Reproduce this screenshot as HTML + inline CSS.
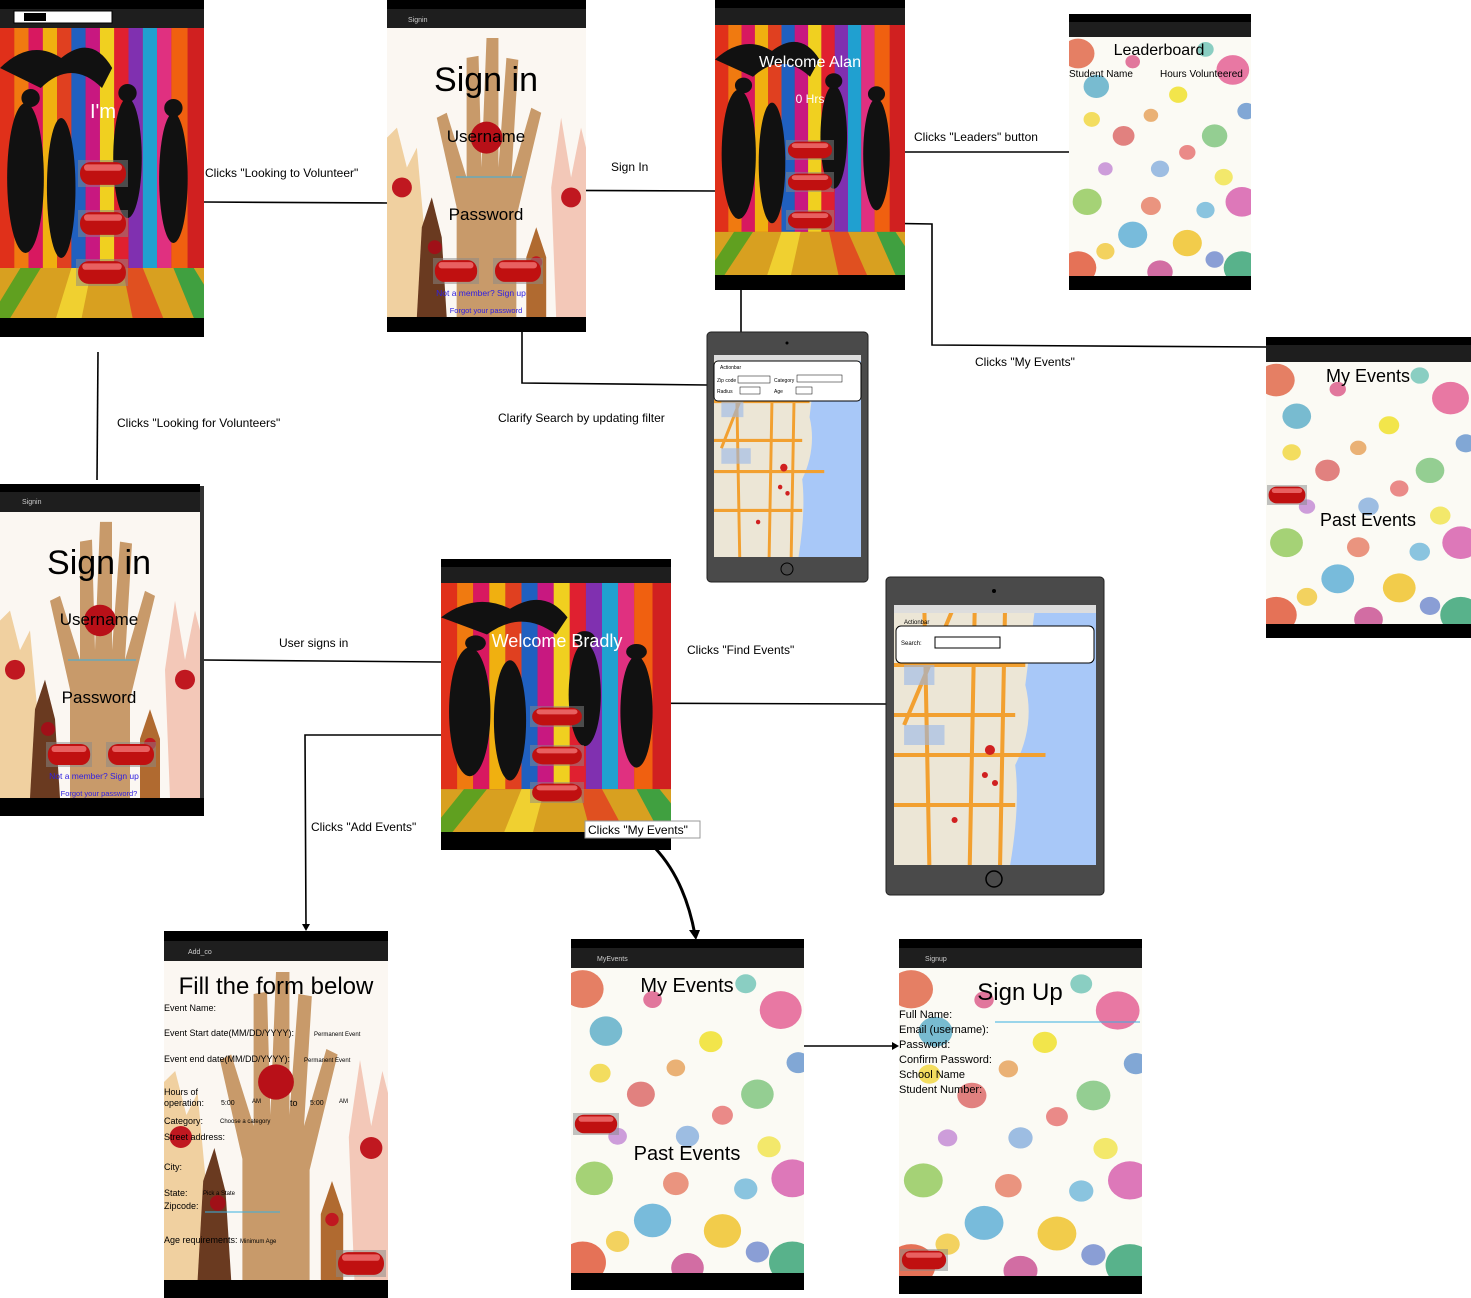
<!DOCTYPE html>
<html><head><meta charset="utf-8"><style>
html,body{margin:0;padding:0;background:#fff}
svg{display:block}
text{font-family:"Liberation Sans",sans-serif}
</style></head><body>
<svg width="1471" height="1298" viewBox="0 0 1471 1298" xmlns="http://www.w3.org/2000/svg">
<defs>
<symbol id="disco" viewBox="0 0 200 290" preserveAspectRatio="none">
 <rect x="0" y="0" width="200" height="290" fill="#c0202a"/>
 <rect x="0" y="0" width="14" height="240" fill="#e0301a"/>
 <rect x="14" y="0" width="14" height="240" fill="#f07a10"/>
 <rect x="28" y="0" width="14" height="240" fill="#d81860"/>
 <rect x="42" y="0" width="14" height="240" fill="#f0b010"/>
 <rect x="56" y="0" width="14" height="240" fill="#e04020"/>
 <rect x="70" y="0" width="14" height="240" fill="#2060c0"/>
 <rect x="84" y="0" width="14" height="240" fill="#c81880"/>
 <rect x="98" y="0" width="14" height="240" fill="#f0d020"/>
 <rect x="112" y="0" width="14" height="240" fill="#e02030"/>
 <rect x="126" y="0" width="14" height="240" fill="#8030b0"/>
 <rect x="140" y="0" width="14" height="240" fill="#20a0d0"/>
 <rect x="154" y="0" width="14" height="240" fill="#e03080"/>
 <rect x="168" y="0" width="16" height="240" fill="#f06010"/>
 <rect x="184" y="0" width="16" height="240" fill="#d02020"/>
 <polygon points="0,240 200,240 200,290 0,290" fill="#d8a020"/>
 <polygon points="20,240 40,240 10,290 -10,290" fill="#60a020"/>
 <polygon points="70,240 90,240 80,290 55,290" fill="#f0d030"/>
 <polygon points="120,240 140,240 160,290 130,290" fill="#e05020"/>
 <polygon points="170,240 190,240 220,290 190,290" fill="#40a040"/>
 <path d="M0,40 Q30,10 60,30 Q90,5 110,40 L100,60 Q70,30 40,60 Z" fill="#111"/>
 <ellipse cx="25" cy="150" rx="18" ry="75" fill="#111"/>
 <ellipse cx="60" cy="160" rx="14" ry="70" fill="#111"/>
 <ellipse cx="125" cy="130" rx="14" ry="60" fill="#111"/>
 <ellipse cx="170" cy="150" rx="14" ry="65" fill="#111"/>
 <circle cx="30" cy="70" r="9" fill="#111"/><circle cx="125" cy="65" r="9" fill="#111"/><circle cx="170" cy="80" r="9" fill="#111"/>
</symbol>
<symbol id="hands" viewBox="0 0 200 290" preserveAspectRatio="none">
 <rect width="200" height="290" fill="#fbf7f2"/>
 <path d="M70,290 L70,180 L50,90 L60,85 L80,150 L80,30 L92,28 L95,140 L100,10 L112,10 L112,140 L120,30 L132,32 L125,150 L145,80 L155,85 L130,190 L130,290 Z" fill="#c89a6a"/>
 <path d="M0,290 L0,110 L10,100 L20,140 L30,120 L40,230 L40,290 Z" fill="#f0d0a0"/>
 <path d="M170,290 L165,160 L175,90 L185,150 L195,100 L200,120 L200,290Z" fill="#f3c8b8"/>
 <path d="M30,290 L35,200 L45,170 L55,210 L60,290Z" fill="#6a3a20"/>
 <path d="M140,290 L140,230 L150,200 L160,230 L160,290Z" fill="#b06a30"/>
 <circle cx="100" cy="110" r="16" fill="#b81018"/>
 <circle cx="15" cy="160" r="10" fill="#c01820"/>
 <circle cx="185" cy="170" r="10" fill="#c01820"/>
 <circle cx="48" cy="220" r="7" fill="#a01018"/>
 <circle cx="150" cy="235" r="6" fill="#c01820"/>
</symbol>
<symbol id="paint" viewBox="0 0 200 290" preserveAspectRatio="none">
 <rect width="200" height="290" fill="#fbfaf4"/>
 <circle cx="10" cy="20" r="18" fill="#e06040" opacity=".8"/>
 <circle cx="30" cy="60" r="14" fill="#40a0c0" opacity=".7"/>
 <circle cx="180" cy="40" r="18" fill="#e04080" opacity=".7"/>
 <circle cx="120" cy="70" r="10" fill="#f0e020" opacity=".8"/>
 <circle cx="60" cy="120" r="12" fill="#d03030" opacity=".6"/>
 <circle cx="160" cy="120" r="14" fill="#50b050" opacity=".6"/>
 <circle cx="100" cy="160" r="10" fill="#4080d0" opacity=".5"/>
 <circle cx="20" cy="200" r="16" fill="#80c040" opacity=".7"/>
 <circle cx="190" cy="200" r="18" fill="#d040a0" opacity=".7"/>
 <circle cx="70" cy="240" r="16" fill="#40a0d0" opacity=".7"/>
 <circle cx="130" cy="250" r="16" fill="#f0c020" opacity=".8"/>
 <circle cx="10" cy="280" r="20" fill="#e05030" opacity=".8"/>
 <circle cx="190" cy="280" r="20" fill="#30a070" opacity=".8"/>
 <circle cx="100" cy="285" r="14" fill="#c03080" opacity=".7"/>
 <circle cx="70" cy="30" r="8" fill="#d02060" opacity=".6"/>
 <circle cx="150" cy="15" r="9" fill="#40b0a0" opacity=".6"/>
 <circle cx="90" cy="95" r="8" fill="#e08020" opacity=".6"/>
 <circle cx="25" cy="100" r="9" fill="#f0d020" opacity=".7"/>
 <circle cx="195" cy="90" r="10" fill="#3070c0" opacity=".6"/>
 <circle cx="130" cy="140" r="9" fill="#e04040" opacity=".6"/>
 <circle cx="40" cy="160" r="8" fill="#a040c0" opacity=".5"/>
 <circle cx="170" cy="170" r="10" fill="#f0e030" opacity=".7"/>
 <circle cx="90" cy="205" r="11" fill="#e05030" opacity=".6"/>
 <circle cx="150" cy="210" r="10" fill="#40a0d0" opacity=".6"/>
 <circle cx="40" cy="260" r="10" fill="#f0c020" opacity=".7"/>
 <circle cx="160" cy="270" r="10" fill="#4060c0" opacity=".6"/>
</symbol>
<symbol id="map" viewBox="0 0 200 260" preserveAspectRatio="none">
 <rect width="200" height="260" fill="#ece6d6"/>
 <path d="M140,0 L200,0 L200,260 L115,260 Q125,200 120,160 Q140,120 130,80 Z" fill="#a8c8f8"/>
 <path d="M30,0 L35,260 M80,0 L75,260 M110,0 L105,260 M0,150 L150,150 M0,200 L120,200 M60,0 L10,120 M0,60 L130,60 M0,110 L120,110" stroke="#f2a030" stroke-width="4" fill="none"/>
 <rect x="10" y="60" width="30" height="20" fill="#9ab8e8" opacity=".6"/>
 <rect x="10" y="120" width="40" height="20" fill="#9ab8e8" opacity=".6"/>
 <circle cx="95" cy="145" r="5" fill="#d02020"/>
 <circle cx="90" cy="170" r="3" fill="#d02020"/><circle cx="100" cy="178" r="3" fill="#d02020"/><circle cx="60" cy="215" r="3" fill="#d02020"/>
</symbol>
<symbol id="redbtn" viewBox="0 0 50 25" preserveAspectRatio="none">
 <rect x="0" y="0" width="50" height="25" fill="#888" opacity=".5"/>
 <rect x="2" y="2" width="46" height="21" rx="10" fill="#c01010"/>
 <rect x="6" y="4" width="38" height="6" rx="3" fill="#e86060"/>
</symbol>
</defs>

<g stroke="#000" stroke-width="1.6" fill="none">
 <path d="M204,202 L387,203"/>
 <path d="M465,190 L715,191 M468,190 L468,282"/>
 <path d="M522,332 L522,383 L707,385"/>
 <path d="M810,152 L1069,152"/>
 <path d="M741,182 L810,182 M741,182 L741,345"/>
 <path d="M810,222 L932,224 L932,345 L1266,347"/>
 <path d="M98,352 L97,480"/>
 <path d="M204,660 L441,662"/>
 <path d="M557,703 L886,704"/>
 <path d="M557,735 L305,735 L306,926"/>
 <path d="M804,1046 L897,1046"/>
 <path d="M655,848 Q685,880 695,935" stroke-width="3"/>
 <path d="M590,790 L615,808" stroke-width="2"/>
</g>
<polygon points="302,924 310,924 306,931" fill="#000"/>
<polygon points="689,930 700,930 696,940" fill="#000"/>
<polygon points="892,1042 892,1050 899,1046" fill="#000"/>

<g font-size="12" fill="#000">
 <text x="205" y="177">Clicks "Looking to Volunteer"</text>
 <text x="611" y="171">Sign In</text>
 <text x="914" y="141">Clicks "Leaders" button</text>
 <text x="975" y="366">Clicks "My Events"</text>
 <text x="498" y="422">Clarify Search by updating filter</text>
 <text x="117" y="427">Clicks "Looking for Volunteers"</text>
 <text x="279" y="647">User signs in</text>
 <text x="687" y="654">Clicks "Find Events"</text>
 <text x="311" y="831">Clicks "Add Events"</text>
</g>

<g>
 <use href="#disco" x="0" y="28" width="204" height="290"/>
 <rect x="0" y="0" width="204" height="9" fill="#000"/>
 <rect x="0" y="9" width="204" height="19" fill="#1e1e1e"/>
 <rect x="14" y="11" width="98" height="12" fill="#fff" stroke="#000"/>
 <rect x="24" y="13" width="22" height="8" fill="#000"/>
 <rect x="0" y="318" width="204" height="19" fill="#000"/>
 <text x="90" y="118" font-size="20" fill="#fff">I'm</text>
 <use href="#redbtn" x="78" y="160" width="50" height="27"/>
 <use href="#redbtn" x="78" y="210" width="50" height="27"/>
 <use href="#redbtn" x="76" y="259" width="52" height="27"/>
</g>

<g>
 <use href="#hands" x="387" y="28" width="199" height="289"/>
 <rect x="387" y="0" width="199" height="9" fill="#000"/>
 <rect x="387" y="9" width="199" height="19" fill="#1e1e1e"/>
 <text x="408" y="22" font-size="7" fill="#ccc">Signin</text>
 <text x="486" y="91" font-size="34" text-anchor="middle">Sign in</text>
 <text x="486" y="142" font-size="17" text-anchor="middle">Username</text>
 <line x1="456" y1="177" x2="522" y2="177" stroke="#3ab0e0"/>
 <text x="486" y="220" font-size="17" text-anchor="middle">Password</text>
 <use href="#redbtn" x="433" y="258" width="46" height="26"/>
 <use href="#redbtn" x="493" y="258" width="50" height="26"/>
 <text x="481" y="296" font-size="8.5" fill="#3020e0" text-anchor="middle">Not a member? Sign up</text>
 <text x="486" y="313" font-size="7.5" fill="#3020e0" text-anchor="middle">Forgot your password</text>
 <rect x="387" y="317" width="199" height="15" fill="#000"/>
</g>

<g>
 <use href="#disco" x="715" y="25" width="190" height="250"/>
 <rect x="715" y="0" width="190" height="8" fill="#000"/>
 <rect x="715" y="8" width="190" height="17" fill="#1e1e1e"/>
 <text x="810" y="67" font-size="16" fill="#fff" text-anchor="middle">Welcome Alan</text>
 <text x="810" y="103" font-size="12" fill="#fff" text-anchor="middle">0 Hrs</text>
 <use href="#redbtn" x="786" y="140" width="48" height="20"/>
 <use href="#redbtn" x="786" y="172" width="48" height="20"/>
 <use href="#redbtn" x="786" y="210" width="48" height="20"/>
 <rect x="715" y="275" width="190" height="15" fill="#000"/>
</g>

<g>
 <use href="#paint" x="1069" y="37" width="182" height="239"/>
 <rect x="1069" y="14" width="182" height="8" fill="#000"/>
 <rect x="1069" y="22" width="182" height="15" fill="#1e1e1e"/>
 <text x="1159" y="55" font-size="16" text-anchor="middle">Leaderboard</text>
 <text x="1069" y="77" font-size="10">Student Name</text>
 <text x="1160" y="77" font-size="10">Hours Volunteered</text>
 <rect x="1069" y="276" width="182" height="14" fill="#000"/>
</g>

<g>
 <use href="#paint" x="1266" y="362" width="205" height="262"/>
 <rect x="1266" y="337" width="205" height="8" fill="#000"/>
 <rect x="1266" y="345" width="205" height="17" fill="#1e1e1e"/>
 <text x="1368" y="382" font-size="18" text-anchor="middle">My Events</text>
 <text x="1368" y="526" font-size="18" text-anchor="middle">Past Events</text>
 <use href="#redbtn" x="1267" y="485" width="40" height="20"/>
 <rect x="1266" y="624" width="205" height="14" fill="#000"/>
</g>

<g>
 <rect x="707" y="332" width="161" height="250" rx="4" fill="#4a4a4a" stroke="#222"/>
 <circle cx="787" cy="343" r="1.5" fill="#000"/>
 <use href="#map" x="714" y="355" width="147" height="202"/>
 <rect x="714" y="355" width="147" height="6" fill="#ddd"/>
 <rect x="714" y="361" width="147" height="40" rx="4" fill="#fff" stroke="#000"/>
 <text x="720" y="369" font-size="5">Actionbar</text>
 <text x="717" y="382" font-size="5">Zip code</text><rect x="738" y="376" width="32" height="7" fill="#fff" stroke="#000" stroke-width=".5"/>
 <text x="774" y="382" font-size="5">Category</text><rect x="797" y="375" width="45" height="7" fill="#fff" stroke="#000" stroke-width=".5"/>
 <text x="717" y="393" font-size="5">Radius</text><rect x="740" y="387" width="20" height="7" fill="#fff" stroke="#000" stroke-width=".5"/>
 <text x="774" y="393" font-size="5">Age</text><rect x="796" y="387" width="16" height="7" fill="#fff" stroke="#000" stroke-width=".5"/>
 <circle cx="787" cy="569" r="6" fill="none" stroke="#000"/>
</g>

<g>
 <use href="#hands" x="0" y="512" width="200" height="286"/>
 <rect x="200" y="486" width="4" height="330" fill="#333"/>
 <rect x="0" y="484" width="200" height="8" fill="#000"/>
 <rect x="0" y="492" width="200" height="20" fill="#1e1e1e"/>
 <text x="22" y="504" font-size="7" fill="#ccc">Signin</text>
 <text x="99" y="574" font-size="34" text-anchor="middle">Sign in</text>
 <text x="99" y="625" font-size="17" text-anchor="middle">Username</text>
 <line x1="68" y1="660" x2="136" y2="660" stroke="#3ab0e0"/>
 <text x="99" y="703" font-size="17" text-anchor="middle">Password</text>
 <use href="#redbtn" x="46" y="742" width="46" height="25"/>
 <use href="#redbtn" x="106" y="742" width="50" height="25"/>
 <text x="94" y="779" font-size="8.5" fill="#3020e0" text-anchor="middle">Not a member? Sign up</text>
 <text x="99" y="796" font-size="7.5" fill="#3020e0" text-anchor="middle">Forgot your password?</text>
 <rect x="0" y="798" width="204" height="18" fill="#000"/>
</g>

<g>
 <use href="#disco" x="441" y="583" width="230" height="249"/>
 <rect x="441" y="559" width="230" height="8" fill="#000"/>
 <rect x="441" y="567" width="230" height="16" fill="#1e1e1e"/>
 <text x="557" y="647" font-size="18" fill="#fff" text-anchor="middle">Welcome Bradly</text>
 <use href="#redbtn" x="530" y="706" width="54" height="21"/>
 <use href="#redbtn" x="530" y="745" width="54" height="21"/>
 <use href="#redbtn" x="530" y="782" width="54" height="21"/>
 <rect x="441" y="832" width="230" height="18" fill="#000"/>
 <rect x="585" y="821" width="115" height="17" fill="#fff" stroke="#999"/>
 <text x="588" y="834" font-size="12">Clicks "My Events"</text>
</g>

<g>
 <rect x="886" y="577" width="218" height="318" rx="4" fill="#4a4a4a" stroke="#222"/>
 <circle cx="994" cy="591" r="2" fill="#000"/>
 <use href="#map" x="894" y="605" width="202" height="260"/>
 <rect x="894" y="605" width="202" height="8" fill="#ddd"/>
 <rect x="896" y="626" width="198" height="37" rx="5" fill="#fff" stroke="#000"/>
 <text x="904" y="624" font-size="6">Actionbar</text>
 <text x="901" y="645" font-size="6">Search:</text>
 <rect x="935" y="637" width="65" height="11" fill="#fff" stroke="#000"/>
 <circle cx="994" cy="879" r="8" fill="none" stroke="#000" stroke-width="1.5"/>
</g>

<g font-size="9">
 <use href="#hands" x="164" y="961" width="224" height="319"/>
 <rect x="164" y="931" width="224" height="10" fill="#000"/>
 <rect x="164" y="941" width="224" height="20" fill="#1e1e1e"/>
 <text x="188" y="954" font-size="7" fill="#ccc">Add_co</text>
 <text x="276" y="994" font-size="24" text-anchor="middle">Fill the form below</text>
 <text x="164" y="1011">Event Name:</text>
 <text x="164" y="1036">Event Start date(MM/DD/YYYY):</text><text x="314" y="1036" font-size="6">Permanent Event</text>
 <text x="164" y="1062">Event end date(MM/DD/YYYY):</text><text x="304" y="1062" font-size="6">Permanent Event</text>
 <text x="164" y="1095">Hours of</text><text x="164" y="1106">operation:</text>
 <text x="221" y="1105" font-size="7">5:00</text><text x="252" y="1103" font-size="6">AM</text><text x="290" y="1106">to</text><text x="310" y="1105" font-size="7">5:00</text><text x="339" y="1103" font-size="6">AM</text>
 <text x="164" y="1124">Category:</text><text x="220" y="1123" font-size="6">Choose a category</text>
 <text x="164" y="1140">Street address:</text>
 <text x="164" y="1170">City:</text>
 <text x="164" y="1196">State:</text><text x="203" y="1195" font-size="6">Pick a State</text>
 <text x="164" y="1209">Zipcode:</text>
 <line x1="205" y1="1212" x2="280" y2="1212" stroke="#3ab0e0"/>
 <text x="164" y="1243">Age requirements:</text><text x="240" y="1243" font-size="6">Minimum Age</text>
 <use href="#redbtn" x="336" y="1250" width="50" height="27"/>
 <rect x="164" y="1280" width="224" height="18" fill="#000"/>
</g>

<g>
 <use href="#paint" x="571" y="968" width="233" height="305"/>
 <rect x="571" y="939" width="233" height="9" fill="#000"/>
 <rect x="571" y="948" width="233" height="20" fill="#1e1e1e"/>
 <text x="597" y="961" font-size="7" fill="#ccc">MyEvents</text>
 <text x="687" y="992" font-size="20" text-anchor="middle">My Events</text>
 <text x="687" y="1160" font-size="20" text-anchor="middle">Past Events</text>
 <use href="#redbtn" x="573" y="1113" width="46" height="22"/>
 <rect x="571" y="1273" width="233" height="17" fill="#000"/>
</g>

<g font-size="11">
 <use href="#paint" x="899" y="968" width="243" height="308"/>
 <rect x="899" y="939" width="243" height="9" fill="#000"/>
 <rect x="899" y="948" width="243" height="20" fill="#1e1e1e"/>
 <text x="925" y="961" font-size="7" fill="#ccc">Signup</text>
 <text x="1020" y="1000" font-size="24" text-anchor="middle">Sign Up</text>
 <text x="899" y="1018">Full Name:</text>
 <text x="899" y="1033">Email (username):</text>
 <line x1="995" y1="1022" x2="1140" y2="1022" stroke="#3ab0e0"/>
 <text x="899" y="1048">Password:</text>
 <text x="899" y="1063">Confirm Password:</text>
 <text x="899" y="1078">School Name</text>
 <text x="899" y="1093">Student Number:</text>
 <use href="#redbtn" x="900" y="1249" width="48" height="22"/>
 <rect x="899" y="1276" width="243" height="18" fill="#000"/>
</g>
</svg>
</body></html>
